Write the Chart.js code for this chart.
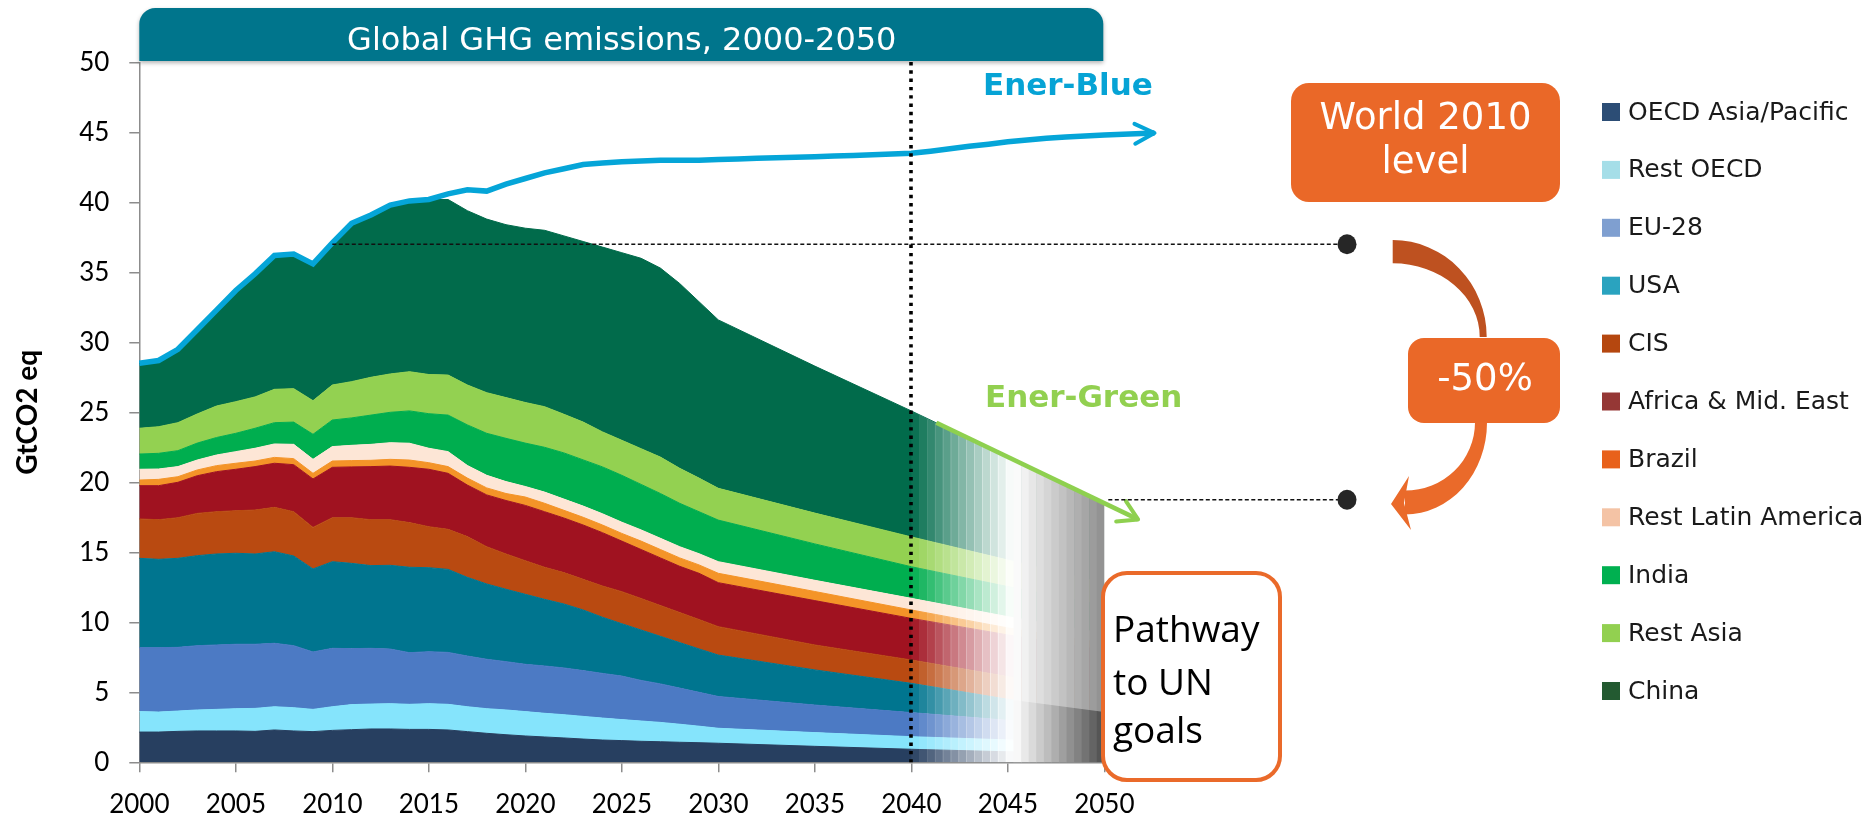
<!DOCTYPE html>
<html>
<head>
<meta charset="utf-8">
<script src="https://cdn.jsdelivr.net/npm/chart.js@4.4.1/dist/chart.umd.min.js"></script>
<style>
  html, body { margin: 0; padding: 0; background: #fff; }
  #wrap { width: 1874px; height: 821px; }
</style>
</head>
<body>
<div id="wrap"><canvas id="ghg" width="1874" height="821"></canvas></div>
<script>
// years of the stacked scenario (annual to 2030, then every 5 years)
const years = [2000, 2001, 2002, 2003, 2004, 2005, 2006, 2007, 2008, 2009,
  2010, 2011, 2012, 2013, 2014, 2015, 2016, 2017, 2018, 2019,
  2020, 2021, 2022, 2023, 2024, 2025, 2026, 2027, 2028, 2029,
  2030, 2035, 2040, 2045, 2050];

const regions = ['OECD Asia/Pacific', 'Rest OECD', 'EU-28', 'USA', 'CIS',
  'Africa & Mid. East', 'Brazil', 'Rest Latin America', 'India', 'Rest Asia', 'China'];

// GtCO2 eq per region (Ener-Green pathway)
const oecdAsiaPacific = [2.16, 2.16, 2.21, 2.24, 2.24, 2.24, 2.21, 2.31, 2.24, 2.19, 2.28, 2.33, 2.38, 2.38, 2.35, 2.35, 2.31, 2.19, 2.07, 1.97, 1.88, 1.81, 1.74, 1.66, 1.59, 1.55, 1.5, 1.47, 1.43, 1.4, 1.36, 1.14, 0.93, 0.75, 0.6];
const restOecd = [1.46, 1.43, 1.45, 1.50, 1.54, 1.59, 1.64, 1.66, 1.66, 1.59, 1.69, 1.79, 1.78, 1.81, 1.79, 1.84, 1.83, 1.78, 1.76, 1.77, 1.74, 1.69, 1.66, 1.62, 1.57, 1.50, 1.45, 1.38, 1.29, 1.18, 1.07, 0.98, 0.90, 0.85, 0.80];
const eu28 = [4.57, 4.60, 4.55, 4.59, 4.60, 4.60, 4.58, 4.53, 4.43, 4.10, 4.17, 4.00, 3.98, 3.90, 3.69, 3.71, 3.71, 3.62, 3.53, 3.45, 3.38, 3.38, 3.34, 3.27, 3.19, 3.11, 2.90, 2.75, 2.58, 2.42, 2.27, 1.97, 1.72, 1.40, 1.10];
const usa = [6.38, 6.31, 6.36, 6.43, 6.50, 6.50, 6.45, 6.54, 6.41, 5.93, 6.19, 6.09, 5.91, 5.98, 6.10, 6.00, 5.93, 5.62, 5.38, 5.17, 5.00, 4.76, 4.57, 4.33, 4.01, 3.74, 3.60, 3.40, 3.25, 3.10, 2.96, 2.51, 2.09, 1.50, 1.10];
const cis = [2.81, 2.83, 2.90, 3.02, 3.02, 3.04, 3.14, 3.17, 3.16, 2.97, 3.14, 3.26, 3.28, 3.26, 3.19, 2.93, 2.86, 2.91, 2.66, 2.52, 2.40, 2.29, 2.24, 2.19, 2.23, 2.29, 2.25, 2.20, 2.15, 2.10, 2.03, 1.78, 1.67, 1.62, 1.50];
const africaMidEast = [2.38, 2.43, 2.53, 2.69, 2.86, 2.96, 3.10, 3.15, 3.36, 3.46, 3.60, 3.63, 3.79, 3.83, 3.95, 4.10, 4.00, 3.68, 3.70, 3.82, 3.95, 3.97, 3.90, 3.88, 3.81, 3.61, 3.50, 3.40, 3.30, 3.30, 3.14, 3.17, 2.97, 2.98, 2.90];
const brazil = [0.40, 0.45, 0.40, 0.41, 0.43, 0.43, 0.40, 0.42, 0.43, 0.40, 0.45, 0.45, 0.45, 0.48, 0.52, 0.47, 0.48, 0.50, 0.50, 0.50, 0.60, 0.60, 0.55, 0.55, 0.55, 0.55, 0.60, 0.60, 0.60, 0.60, 0.67, 0.65, 0.60, 0.50, 0.50];
const restLatinAmerica = [0.77, 0.74, 0.72, 0.71, 0.76, 0.83, 0.91, 0.96, 1.02, 1.00, 1.03, 1.09, 1.14, 1.19, 1.20, 1.03, 1.07, 0.90, 0.90, 0.85, 0.75, 0.80, 0.80, 0.80, 0.80, 0.80, 0.80, 0.80, 0.80, 0.80, 0.83, 0.80, 0.83, 0.80, 0.70];
const india = [1.09, 1.12, 1.14, 1.21, 1.25, 1.31, 1.43, 1.52, 1.59, 1.79, 1.90, 1.96, 2.09, 2.17, 2.31, 2.47, 2.61, 2.90, 3.00, 3.09, 3.10, 3.20, 3.30, 3.30, 3.35, 3.35, 3.25, 3.20, 3.10, 3.00, 2.97, 2.60, 2.26, 2.15, 2.00];
const restAsia = [1.84, 1.90, 2.00, 2.08, 2.25, 2.26, 2.24, 2.38, 2.39, 2.40, 2.50, 2.59, 2.70, 2.74, 2.80, 2.80, 2.86, 2.85, 2.90, 2.91, 2.90, 2.90, 2.76, 2.70, 2.50, 2.50, 2.55, 2.60, 2.50, 2.40, 2.27, 2.20, 2.13, 1.90, 1.60];
const china = [4.64, 4.73, 5.24, 6.02, 6.85, 7.94, 8.80, 9.56, 9.61, 9.77, 10.15, 11.31, 11.60, 12.06, 12.20, 12.50, 12.54, 12.45, 12.40, 12.35, 12.45, 12.60, 12.74, 12.90, 13.20, 13.40, 13.60, 13.50, 13.20, 12.60, 12.03, 10.50, 9.00, 7.35, 5.70];

// Ener-Blue total (last point is the arrow tip past 2050)
const blueYears = [2000, 2001, 2002, 2003, 2004, 2005, 2006, 2007, 2008, 2009,
  2010, 2011, 2012, 2013, 2014, 2015, 2016, 2017, 2018, 2019,
  2020, 2021, 2022, 2023, 2024, 2025, 2026, 2027, 2028, 2029,
  2030, 2031, 2032, 2033, 2034, 2035, 2036, 2037, 2038, 2039,
  2040, 2041, 2042, 2043, 2044, 2045, 2046, 2047, 2048, 2049, 2050, 2052.6];
const blueValues = [28.5, 28.7, 29.5, 30.9, 32.3, 33.7, 34.9, 36.2, 36.3, 35.6,
  37.1, 38.5, 39.1, 39.8, 40.1, 40.2, 40.6, 40.9, 40.8, 41.3,
  41.7, 42.1, 42.4, 42.7, 42.8, 42.9, 42.95, 43.0, 43.0, 43.0,
  43.05, 43.1, 43.15, 43.18, 43.22, 43.25, 43.3, 43.35, 43.4, 43.45,
  43.5, 43.65, 43.83, 44.0, 44.15, 44.32, 44.45, 44.57, 44.66, 44.73, 44.8, 44.95];

// Ener-Green arrow along the pathway
const greenYears = [2041.3, 2051.75];
const greenValues = [24.25, 17.35];

const xTickYears = [2000, 2005, 2010, 2015, 2020, 2025, 2030, 2035, 2040, 2045, 2050];
const world2010Level = 37.0;
const targetLevel = 18.75;

const series = [oecdAsiaPacific, restOecd, eu28, usa, cis, africaMidEast, brazil, restLatinAmerica, india, restAsia, china];
const fillColours = ['#273f60', '#85e4fc', '#4c7ac4', '#00758f', '#b94a11', '#a01220', '#f49428', '#fde6d6', '#00ae4f', '#93d151', '#016b4b'];
const swatchColours = ['#2c4d75', '#a5dee8', '#7f9fd0', '#2aa3bf', '#b5470f', '#953735', '#e8611b', '#f4c3a5', '#00b050', '#92d050', '#235a31'];

const areaSets = series.map((vals, i) => ({
  label: regions[i],
  data: years.map((yr, j) => ({ x: yr, y: vals[j] })),
  backgroundColor: fillColours[i],
  borderColor: fillColours[i],
  borderWidth: 1,
  fill: i === 0 ? 'origin' : '-1',
  pointRadius: 0,
  tension: 0,
  stack: 'regions',
  order: 1
}));

const blueSet = {
  label: 'Ener-Blue',
  data: blueYears.map((yr, j) => ({ x: yr, y: blueValues[j] })),
  borderColor: '#05a5d8',
  borderWidth: 5.5,
  fill: false,
  pointRadius: 0,
  stack: 'blue',
  order: 0,
  clip: false
};

const greenSet = {
  label: 'Ener-Green',
  data: greenYears.map((yr, j) => ({ x: yr, y: greenValues[j] })),
  borderColor: '#8ed04f',
  borderWidth: 4.5,
  fill: false,
  pointRadius: 0,
  stack: 'green',
  order: 0,
  clip: false
};

// fade of the regional colours after 2040, grey towards 2050
const fadePlugin = {
  id: 'fade',
  afterDatasetDraw(chart, args) {
    if (args.index !== 0) return;
    const { ctx, chartArea, scales: { x, y } } = chart;
    const y0 = y.getPixelForValue(0);
    const x0 = x.getPixelForValue(2040);
    const xm = x.getPixelForValue(2045.3);
    const x1 = x.getPixelForValue(2050);
    const areaPath = meta => {
      const pts = meta.data;
      ctx.beginPath();
      ctx.moveTo(pts[0].x, y0);
      pts.forEach(p => ctx.lineTo(p.x, p.y));
      ctx.lineTo(pts[pts.length - 1].x, y0);
      ctx.closePath();
    };
    const n1 = 13, n2 = 12;
    const s1 = (xm - x0) / n1, s2 = (x1 - xm) / n2;

    ctx.save();
    areaPath(chart.getDatasetMeta(10));
    ctx.clip();
    for (let i = 0; i < n1; i++) {
      ctx.fillStyle = 'rgba(255,255,255,' + ((i + 0.6) / n1).toFixed(3) + ')';
      ctx.fillRect(x0 + i * s1, chartArea.top, s1 + 0.6, y0 - chartArea.top);
    }
    for (let i = 0; i < n2; i++) {
      const g = Math.round(255 - (255 - 0x8e) * (i + 0.5) / n2);
      ctx.fillStyle = 'rgb(' + g + ',' + g + ',' + g + ')';
      ctx.fillRect(xm + i * s2, chartArea.top, s2 + 0.6, y0 - chartArea.top);
    }
    ctx.restore();

    ctx.save();
    areaPath(chart.getDatasetMeta(3));
    ctx.clip();
    for (let i = 0; i < n2; i++) {
      const g = Math.round(255 - (255 - 0x4e) * (i + 0.5) / n2);
      ctx.fillStyle = 'rgb(' + g + ',' + g + ',' + g + ')';
      ctx.fillRect(xm + i * s2, chartArea.top, s2 + 0.6, y0 - chartArea.top);
    }
    ctx.restore();
  }
};

function chevron(ctx, meta, colour, len, spread, width) {
  const pts = meta.data;
  const a = pts[pts.length - 2], b = pts[pts.length - 1];
  const ang = Math.atan2(b.y - a.y, b.x - a.x);
  ctx.save();
  ctx.strokeStyle = colour;
  ctx.lineWidth = width;
  ctx.lineCap = 'round';
  ctx.lineJoin = 'round';
  ctx.beginPath();
  ctx.moveTo(b.x - len * Math.cos(ang - spread), b.y - len * Math.sin(ang - spread));
  ctx.lineTo(b.x, b.y);
  ctx.lineTo(b.x - len * Math.cos(ang + spread), b.y - len * Math.sin(ang + spread));
  ctx.stroke();
  ctx.restore();
}

const dotX = 1347;

const overlayPlugin = {
  id: 'overlay',
  afterDatasetsDraw(chart) {
    const { ctx, chartArea, scales: { x, y } } = chart;
    chevron(ctx, chart.getDatasetMeta(11), '#05a5d8', 22, 0.47, 4);
    chevron(ctx, chart.getDatasetMeta(12), '#8ed04f', 22, 0.54, 4);

    // dashed reference levels
    ctx.save();
    ctx.strokeStyle = '#111';
    ctx.lineWidth = 1.5;
    ctx.setLineDash([4, 2.5]);
    const yTop = y.getPixelForValue(world2010Level);
    const yLow = y.getPixelForValue(targetLevel);
    ctx.beginPath();
    ctx.moveTo(x.getPixelForValue(2010), yTop);
    ctx.lineTo(dotX, yTop);
    ctx.moveTo(x.getPixelForValue(2050) + 4, yLow);
    ctx.lineTo(dotX, yLow);
    ctx.stroke();
    ctx.restore();

    ctx.save();
    ctx.fillStyle = '#262626';
    [yTop, yLow].forEach(yy => {
      ctx.beginPath();
      ctx.ellipse(dotX, yy, 9.5, 10, 0, 0, Math.PI * 2);
      ctx.fill();
    });
    ctx.restore();

    // dotted 2040 marker
    ctx.save();
    ctx.strokeStyle = '#000';
    ctx.lineWidth = 3.6;
    ctx.setLineDash([3.4, 4.9]);
    const x40 = Math.round(x.getPixelForValue(2040));
    ctx.beginPath();
    ctx.moveTo(x40, 62);
    ctx.lineTo(x40, chartArea.bottom);
    ctx.stroke();
    ctx.restore();
  },
  afterDraw(chart) {
    const { ctx, chartArea } = chart;
    ctx.save();

    // title banner
    ctx.save();
    ctx.shadowColor = 'rgba(0,0,0,0.3)';
    ctx.shadowBlur = 4;
    ctx.shadowOffsetY = 2;
    ctx.fillStyle = '#00758c';
    ctx.beginPath();
    ctx.roundRect(chartArea.left, 8, chartArea.right - chartArea.left - 1, 53, [16, 16, 0, 0]);
    ctx.fill();
    ctx.restore();
    ctx.fillStyle = '#fff';
    ctx.font = '32px "DejaVu Sans"';
    ctx.textAlign = 'center';
    ctx.textBaseline = 'alphabetic';
    ctx.fillText('Global GHG emissions, 2000-2050', (chartArea.left + chartArea.right) / 2, 50);

    // scenario labels
    ctx.textAlign = 'left';
    ctx.font = 'bold 31px "DejaVu Sans"';
    ctx.fillStyle = '#06a3d5';
    ctx.fillText('Ener-Blue', 983, 95);
    ctx.fillStyle = '#92d050';
    ctx.fillText('Ener-Green', 985, 407);

    // orange boxes
    ctx.fillStyle = '#ea6828';
    ctx.beginPath();
    ctx.roundRect(1291, 83, 269, 119, 18);
    ctx.fill();
    ctx.beginPath();
    ctx.roundRect(1408, 338, 152, 85, 16);
    ctx.fill();
    ctx.fillStyle = '#fff';
    ctx.textAlign = 'center';
    ctx.font = '37px "DejaVu Sans"';
    ctx.fillText('World 2010', 1425.5, 129);
    ctx.fillText('level', 1425.5, 173);
    ctx.fillText('-50%', 1485, 390);

    // curved arrow, upper part
    ctx.fillStyle = '#be5120';
    ctx.beginPath();
    ctx.ellipse(1392.7, 337, 94, 97, 0, -Math.PI / 2, 0);
    ctx.ellipse(1392.7, 337, 87, 73.7, 0, 0, -Math.PI / 2, true);
    ctx.closePath();
    ctx.fill();
    // lower part with head
    ctx.fillStyle = '#ea6a2a';
    ctx.beginPath();
    ctx.ellipse(1405, 422.6, 82, 92, 0, 0, Math.PI / 2);
    ctx.lineTo(1405, 514.6);
    ctx.lineTo(1405, 490.6);
    ctx.ellipse(1405, 422.6, 70, 68, 0, Math.PI / 2, 0, true);
    ctx.closePath();
    ctx.fill();
    ctx.beginPath();
    ctx.moveTo(1391, 504);
    ctx.lineTo(1409, 476);
    ctx.lineTo(1404, 503);
    ctx.lineTo(1411, 530);
    ctx.closePath();
    ctx.fill();

    // pathway box
    ctx.fillStyle = '#fff';
    ctx.strokeStyle = '#ea6a2a';
    ctx.lineWidth = 4;
    ctx.beginPath();
    ctx.roundRect(1103, 573, 177, 207, 24);
    ctx.fill();
    ctx.stroke();
    ctx.fillStyle = '#000';
    ctx.textAlign = 'left';
    ctx.font = '37px "Open Sans"';
    ctx.fillText('Pathway', 1113, 642);
    ctx.fillText('to UN', 1113, 695);
    ctx.fillText('goals', 1113, 743);

    // legend
    ctx.font = '25px "DejaVu Sans"';
    ctx.textBaseline = 'middle';
    regions.forEach((name, i) => {
      const cy = 112 + i * 57.9;
      ctx.fillStyle = swatchColours[i];
      ctx.fillRect(1602, cy - 9, 18, 18);
      ctx.fillStyle = '#1a1a1a';
      ctx.fillText(name, 1628, cy + 1);
    });
    ctx.restore();
  }
};

new Chart(document.getElementById('ghg'), {
  type: 'line',
  data: { datasets: [...areaSets, blueSet, greenSet] },
  options: {
    responsive: false,
    animation: false,
    devicePixelRatio: 1,
    layout: { padding: { top: 62.3, right: 769.7, bottom: 0, left: 0 } },
    plugins: { legend: { display: false }, tooltip: { enabled: false } },
    scales: {
      x: {
        type: 'linear',
        z: 1,
        // fixed range set here so that the arrow tips past 2050 are still drawn
        afterDataLimits: s => { s.min = 2000; s.max = 2050; },
        afterBuildTicks: s => { s.ticks = xTickYears.map(v => ({ value: v })); },
        afterFit: s => { s.height = 58.7; },
        ticks: {
          autoSkip: false,
          maxRotation: 0,
          padding: 17,
          color: '#000',
          font: { family: 'Lato', size: 26 },
          callback: v => String(v)
        },
        grid: { drawOnChartArea: false, drawTicks: true, tickLength: 10, color: '#8c8c8c', lineWidth: 1.5 },
        border: { display: true, color: '#8c8c8c', width: 1.5 }
      },
      y: {
        stacked: true,
        min: 0,
        max: 50,
        z: 1,
        afterFit: s => { s.width = 139.3; },
        ticks: { stepSize: 5, padding: 20, color: '#000', font: { family: 'Lato', size: 26 } },
        title: {
          display: true,
          text: 'GtCO2 eq',
          color: '#000',
          font: { family: 'Lato', size: 28, weight: 'bold' },
          padding: { top: 11, bottom: 0 }
        },
        grid: { drawOnChartArea: false, drawTicks: true, tickLength: 10, color: '#8c8c8c', lineWidth: 1.5 },
        border: { display: true, color: '#8c8c8c', width: 1.5 }
      }
    }
  },
  plugins: [fadePlugin, overlayPlugin]
});
</script>
</body>
</html>
